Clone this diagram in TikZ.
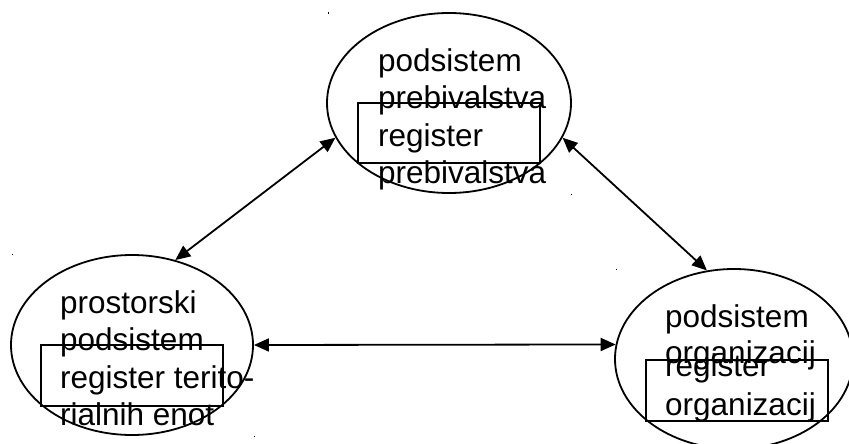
\documentclass[tikz,border=0pt]{standalone}
\usepackage{fontspec}
\setmainfont{Liberation Sans}
\usetikzlibrary{arrows.meta,shapes.geometric}
\begin{document}
\begin{tikzpicture}[x=1pt,y=-1pt,
  subsys/.style={draw,ellipse,line width=1.8pt,inner sep=0pt,minimum height=180pt},
  regbox/.style={draw,rectangle,line width=1.5pt,inner sep=0pt,minimum width=182pt,minimum height=61pt},
  txt/.style={anchor=base west,inner sep=0pt,font=\fontsize{31.5}{37}\selectfont},
  conn/.style={line width=1.8pt,{Triangle[length=15pt,width=13pt]}-{Triangle[length=15pt,width=13pt]}},
  dot/.style={fill=black}]
\useasboundingbox (0,0) rectangle (849,444);
% ellipses
\node[subsys,minimum width=244pt] (top) at (449,103) {};
\node[subsys,minimum width=242pt] (left) at (132,345) {};
\node[subsys,minimum width=238pt] (right) at (734,359) {};
% register boxes
\node[regbox,minimum height=60pt] (topbox) at (449,133) {};
\node[regbox] (leftbox) at (132,375.5) {};
\node[regbox] (rightbox) at (737,390.5) {};
% texts top
\node[txt] (t1) at (378,71) {podsistem};
\node[txt] (t2) at (378,108) {prebivalstva};
\node[txt] (t3) at (378,146) {register};
\node[txt] (t4) at (378,183) {prebivalstva};
% texts left
\node[txt] (l1) at (60,313) {prostorski};
\node[txt] (l2) at (60,350) {podsistem};
\node[txt] (l3) at (60,388) {register terito-};
\node[txt] (l4) at (60,425) {rialnih enot};
% texts right
\node[txt] (r1) at (665,327) {podsistem};
\node[txt] (r2) at (665,363) {organizacij};
\node[txt] (r3) at (665,376) {register};
\node[txt] (r4) at (665,415) {organizacij};
% connectors
\draw[conn] (left.63) -- (top.197);
\draw[conn] (top.-17) -- (right.107);
\draw[conn] (left.0) -- (right.173);
% tiny corner marks
\fill[dot] (327.5,12.5) rectangle ++(1.2,1.2);
\fill[dot] (570.5,193.5) rectangle ++(1.2,1.2);
\fill[dot] (11.5,253.5) rectangle ++(1.2,1.2);
\fill[dot] (253.5,435.5) rectangle ++(1.2,1.2);
\fill[dot] (615.5,268.5) rectangle ++(1.2,1.2);
\end{tikzpicture}
\end{document}
